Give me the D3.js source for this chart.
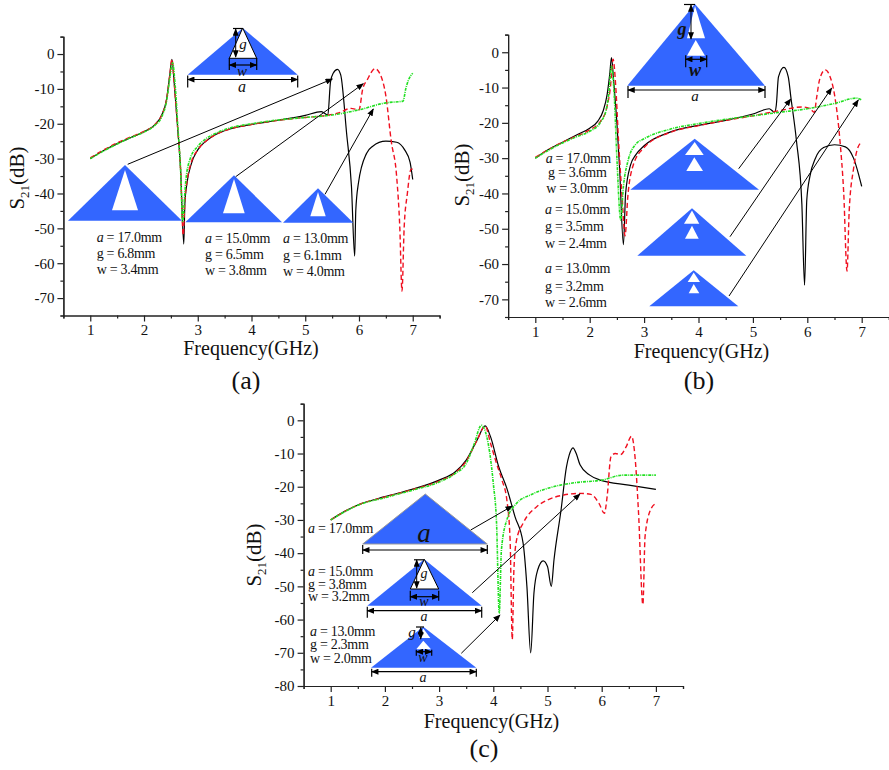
<!DOCTYPE html>
<html>
<head>
<meta charset="utf-8">
<script src="https://cdn.jsdelivr.net/npm/d3@7"></script>
<style>
	html, body { margin: 0; padding: 0; background: #fff; }
	svg { display: block; }
	text { font-family: "Liberation Serif", serif; fill: #111; }
</style>
</head>
<body>
<svg id="fig" width="889" height="770"></svg>
<script>
// curves: [GHz, dB]
var aBlack = [[1,-30],[1.25,-27.7],[1.5,-25.7],[1.75,-24],[2,-22.3],[2.2,-20.3],[2.33,-17.5],[2.42,-13],[2.48,-6],[2.52,-1.5],[2.56,-8],[2.62,-20],[2.68,-33],[2.74,-54.5],[2.76,-43],[2.8,-37],[2.88,-31.5],[3,-27.5],[3.15,-25],[3.3,-23.4],[3.6,-21.5],[4,-20.2],[4.5,-19],[5,-17.6],[5.3,-16.5],[5.42,-17.5],[5.47,-8],[5.52,-5.5],[5.6,-4.4],[5.66,-6],[5.77,-22.8],[5.86,-38],[5.92,-58],[5.94,-45],[5.99,-37],[6.14,-28.5],[6.25,-26.5],[6.5,-25],[6.7,-25.3],[6.85,-27.5],[6.95,-31],[7,-36]];
var aRed = [[1,-29.8],[1.25,-27.5],[1.5,-25.5],[1.75,-23.8],[2,-22.2],[2.2,-20.3],[2.33,-17.5],[2.42,-13],[2.48,-6],[2.52,-1.5],[2.56,-8],[2.62,-20],[2.68,-33],[2.73,-52],[2.76,-42],[2.8,-36.5],[2.88,-31],[3,-27.5],[3.15,-25],[3.3,-23.4],[3.6,-21.5],[4,-20.2],[4.5,-19],[5,-18.2],[5.4,-17.6],[5.6,-17],[5.85,-15.6],[6,-16],[6.07,-10],[6.15,-7.5],[6.3,-4.2],[6.4,-6],[6.5,-12],[6.6,-25],[6.7,-35],[6.76,-50],[6.8,-68],[6.84,-50],[6.9,-40],[6.97,-33],[7,-33]];
var aGreen = [[1,-30],[1.25,-27.8],[1.5,-25.8],[1.75,-24],[2,-22.4],[2.2,-20.5],[2.33,-18],[2.42,-13.5],[2.48,-7],[2.53,-2.5],[2.58,-9],[2.63,-21],[2.68,-33],[2.72,-48],[2.75,-42],[2.78,-36],[2.86,-30],[3,-26.5],[3.15,-24.3],[3.3,-23],[3.6,-21.2],[4,-20],[4.5,-18.9],[5,-18.2],[5.5,-17.5],[6,-16],[6.5,-14],[6.82,-13.5],[6.87,-10],[6.92,-7.5],[7,-5.5]];

var bBlack = [[1,-30],[1.25,-27.5],[1.5,-25.5],[1.75,-23.5],[2,-21.5],[2.15,-19.5],[2.25,-16.5],[2.32,-12],[2.37,-6],[2.4,-1.5],[2.44,-8],[2.5,-20],[2.55,-33],[2.62,-54.5],[2.66,-40],[2.75,-32],[2.85,-29],[3,-26.5],[3.5,-22.5],[4,-20.7],[4.5,-19.3],[5,-17.5],[5.3,-16],[5.4,-17],[5.43,-15],[5.47,-7],[5.57,-4.3],[5.65,-7],[5.7,-13],[5.8,-25],[5.9,-43],[5.95,-66],[5.99,-42],[6.05,-35],[6.15,-30],[6.3,-27],[6.5,-26.2],[6.7,-26.8],[6.85,-30],[6.95,-35],[7,-38]];
var bRed = [[1,-29.8],[1.25,-27.5],[1.5,-25.5],[1.75,-23.8],[2,-22],[2.2,-19.5],[2.3,-16.5],[2.38,-10],[2.43,-2],[2.48,-10],[2.53,-25],[2.6,-42],[2.65,-52],[2.7,-41],[2.8,-32],[3,-27],[3.5,-22.6],[4,-20.8],[4.5,-19.3],[5,-18],[5.5,-16.5],[5.9,-15.5],[6.05,-16],[6.13,-17],[6.17,-13],[6.23,-7.5],[6.33,-5],[6.42,-7],[6.5,-12],[6.6,-25],[6.67,-40],[6.73,-62],[6.77,-45],[6.85,-33],[6.93,-27],[7,-25.5]];
var bGreen = [[1,-30],[1.25,-27.7],[1.5,-25.7],[1.75,-24],[2,-22.4],[2.2,-19.8],[2.3,-16.5],[2.35,-12],[2.4,-4],[2.45,-12],[2.5,-30],[2.57,-47.5],[2.62,-38],[2.7,-31],[2.85,-26],[3,-24.5],[3.5,-21.7],[4,-20.2],[4.5,-19],[5,-18],[5.5,-17],[6,-16],[6.5,-14.5],[6.9,-13],[7,-13.5]];

var cBlack = [[1,-30],[1.25,-27.5],[1.5,-25.5],[2,-23],[2.5,-20.8],[3,-18],[3.3,-15.5],[3.5,-12],[3.7,-6],[3.85,-1.7],[3.95,-5],[4.1,-14],[4.25,-20.5],[4.4,-29],[4.55,-37],[4.62,-50],[4.69,-70],[4.75,-52],[4.82,-45],[4.92,-42.3],[5,-44],[5.07,-50],[5.12,-42],[5.25,-27],[5.35,-14],[5.4,-10.5],[5.47,-8.3],[5.53,-10],[5.6,-13.4],[5.78,-16.5],[5.97,-18],[6.5,-19.5],[7,-20.8]];
var cRed = [[1,-30],[1.25,-27.5],[1.5,-25.5],[2,-23.1],[2.5,-20.9],[3,-18.3],[3.3,-15.8],[3.5,-12.3],[3.7,-6],[3.85,-1.7],[3.95,-7],[4.06,-13],[4.16,-18],[4.25,-24],[4.31,-36],[4.35,-66],[4.38,-45],[4.43,-36],[4.55,-31],[4.8,-26],[5,-24],[5.3,-22.5],[5.6,-22],[5.8,-22.3],[5.95,-25],[6.05,-28],[6.1,-23],[6.17,-11],[6.25,-10],[6.35,-10.3],[6.45,-8],[6.55,-4.8],[6.62,-12],[6.68,-28],[6.76,-55.5],[6.8,-35],[6.9,-27],[7,-25]];
var cGreen = [[1,-30],[1.25,-27.6],[1.5,-25.6],[2,-23.3],[2.5,-21.1],[3,-18.6],[3.3,-16],[3.5,-13],[3.65,-7],[3.78,-1.5],[3.88,-5],[4,-19],[4.06,-31],[4.11,-58],[4.15,-39],[4.25,-30],[4.43,-25],[4.68,-22.5],[5,-20.5],[5.5,-18.8],[6,-18],[6.4,-16.5],[7,-16.5]];

var xTicks = [1, 2, 3, 4, 5, 6, 7];
var xMinor = [0.5, 1.5, 2.5, 3.5, 4.5, 5.5, 6.5, 7.5];
var yTicksAB = [0, -10, -20, -30, -40, -50, -60, -70];
var yMinorAB = [5, -5, -15, -25, -35, -45, -55, -65, -75];
var yTicksC = [0, -10, -20, -30, -40, -50, -60, -70, -80];
var yMinorC = [5, -5, -15, -25, -35, -45, -55, -65, -75];

var aText = [["17.0", "6.8", "3.4"], ["15.0", "6.5", "3.8"], ["13.0", "6.1", "4.0"]];
var bText = [["17.0", "3.6", "3.0"], ["15.0", "3.5", "2.4"], ["13.0", "3.2", "2.6"]];
var cText = [["17.0"], ["15.0", "3.8", "3.2"], ["13.0", "2.3", "2.0"]];

var BLUE = "#3366ff";
var svg = d3.select("#fig");

svg.append("defs").append("marker")
	.attr("id", "head")
	.attr("viewBox", "0 0 10 8")
	.attr("refX", 9).attr("refY", 4)
	.attr("markerWidth", 8).attr("markerHeight", 6)
	.attr("markerUnits", "userSpaceOnUse")
	.attr("orient", "auto-start-reverse")
	.append("path").attr("d", "M0,0L10,4L0,8Z").attr("fill", "#000");

function panel(opt) {
	var x = d3.scaleLinear().domain([0.5, 7.5]).range(opt.xr);
	var y = d3.scaleLinear().domain(opt.yd).range(opt.yr);
	var g = svg.append("g");
	var line = d3.line()
		.x(function(d) { return x(d[0]); })
		.y(function(d) { return y(d[1]); })
		.curve(d3.curveMonotoneX);

	function curve(data, color, dash, w) {
		g.append("path").datum(data)
			.attr("fill", "none")
			.attr("stroke", color)
			.attr("stroke-width", w)
			.attr("stroke-dasharray", dash)
			.attr("d", line);
	}
	curve(opt.black, "#000", null, 1.2);
	curve(opt.red, "#f01020", "5,3", 1.4);
	curve(opt.green, "#22e022", "3,1,1,1", 1.6);

	// minor ticks first, labelled axis on top
	g.append("g").attr("transform", "translate(0," + opt.yr[0] + ")")
		.call(d3.axisBottom(x).tickValues(xMinor).tickSize(3).tickFormat(""));
	g.append("g").attr("transform", "translate(" + opt.xr[0] + ",0)")
		.call(d3.axisLeft(y).tickValues(opt.yMinor).tickSize(3).tickFormat(""));
	g.append("g").attr("transform", "translate(0," + opt.yr[0] + ")")
		.call(d3.axisBottom(x).tickValues(xTicks).tickSize(6).tickSizeOuter(0).tickFormat(String));
	g.append("g").attr("transform", "translate(" + opt.xr[0] + ",0)")
		.call(d3.axisLeft(y).tickValues(opt.yTicks).tickSize(6).tickSizeOuter(0).tickFormat(String));
	g.selectAll(".domain, .tick line").attr("stroke", "#222").attr("stroke-width", 1.2);
	g.selectAll(".tick text").style("font-size", "15px").style("font-family", '"Liberation Serif", serif').attr("fill", "#111");

	g.append("text").attr("x", opt.xTitle[0]).attr("y", opt.xTitle[1])
		.attr("text-anchor", "middle").style("font-size", "20px").text("Frequency(GHz)");

	var yt = g.append("text")
		.attr("transform", "translate(" + opt.yTitle[0] + "," + opt.yTitle[1] + ") rotate(-90)")
		.attr("text-anchor", "middle").style("font-size", "21px");
	yt.append("tspan").text("S");
	yt.append("tspan").attr("dy", 5).style("font-size", "13px").text("21");
	yt.append("tspan").attr("dy", -5).text("(dB)");

	g.append("text").attr("x", opt.tag[0]).attr("y", opt.tag[1])
		.attr("text-anchor", "middle").style("font-size", "26px").text(opt.tag[2]);
}

function tri(ax, ay, lx, rx, by, fill, stroke) {
	return svg.append("path")
		.attr("d", "M" + ax + "," + ay + "L" + lx + "," + by + "L" + rx + "," + by + "Z")
		.attr("fill", fill)
		.attr("stroke", stroke || "none")
		.attr("stroke-width", 1);
}

function arrow(x1, y1, x2, y2, both, w) {
	var l = svg.append("line")
		.attr("x1", x1).attr("y1", y1).attr("x2", x2).attr("y2", y2)
		.attr("stroke", "#000").attr("stroke-width", w || 1)
		.attr("marker-end", "url(#head)");
	if (both) l.attr("marker-start", "url(#head)");
}

// horizontal dimension with end bars
function dim(x1, x2, y, up, down) {
	arrow(x1, y, x2, y, true, 1.2);
	[x1, x2].forEach(function(x) {
		svg.append("line").attr("x1", x).attr("x2", x)
			.attr("y1", y - up).attr("y2", y + down)
			.attr("stroke", "#000").attr("stroke-width", 1.2);
	});
}

function label(x, y, s, size, bold) {
	svg.append("text").attr("x", x).attr("y", y)
		.attr("text-anchor", "middle")
		.style("font-size", size + "px").style("font-style", "italic")
		.style("font-weight", bold ? "bold" : "normal")
		.text(s);
}

function params(vals, xs, ys) {
	var names = ["a", "g", "w"];
	vals.forEach(function(v, i) {
		var t = svg.append("text").attr("x", xs[i]).attr("y", ys[i])
			.style("font-size", "14px").style("letter-spacing", "-0.3px");
		if (i == 0) t.append("tspan").style("font-style", "italic").text("a");
		else t.append("tspan").text(names[i]);
		t.append("tspan").text(" = " + v + "mm");
	});
}

panel({
	xr: [63.4, 439.6], yd: [-75, 5], yr: [315.5, 36.6],
	yTicks: yTicksAB, yMinor: yMinorAB,
	black: aBlack, red: aRed, green: aGreen,
	xTitle: [251, 355], yTitle: [24, 178], tag: [246, 389, "(a)"]
});
panel({
	xr: [508.1, 888.9], yd: [-75, 5], yr: [317, 34.6],
	yTicks: yTicksAB, yMinor: yMinorAB,
	black: bBlack, red: bRed, green: bGreen,
	xTitle: [701.5, 358], yTitle: [469, 175], tag: [699, 389, "(b)"]
});
panel({
	xr: [303.6, 683], yd: [-80, 5], yr: [686, 403.7],
	yTicks: yTicksC, yMinor: yMinorC,
	black: cBlack, red: cRed, green: cGreen,
	xTitle: [491.5, 728], yTitle: [261, 555], tag: [484, 757, "(c)"]
});

// (a) unit cell sketches
tri(242.7, 28, 187.7, 297.7, 74.7, BLUE);
tri(242.7, 28, 229.3, 256.7, 58.3, "#fff", "#000");
svg.append("line").attr("x1", 233).attr("x2", 243).attr("y1", 28.5).attr("y2", 28.5).attr("stroke", "#000").attr("stroke-width", 1.2);
arrow(235.7, 29, 235.7, 57, true, 1);
dim(229.3, 256.7, 65, 7, 5);
dim(187.7, 297.7, 79.5, 4, 8);
label(243, 49, "g", 15);
label(242, 76, "w", 15);
label(242, 92, "a", 16);

tri(125, 165, 68, 182, 220.7, BLUE);
tri(125, 170, 112, 138, 210.3, "#fff");
tri(234, 175.3, 185.3, 282, 222.3, BLUE);
tri(234, 179, 223, 244.7, 213.3, "#fff");
tri(318, 188.3, 283, 353.3, 222.7, BLUE);
tri(318, 192, 310.3, 325.7, 216.3, "#fff");

params(aText[0], [96.7, 96.7, 96.7], [241.7, 258, 274]);
params(aText[1], [205, 205, 205], [243, 259, 275]);
params(aText[2], [283, 283, 283], [243, 260, 276]);

arrow(127.7, 164.3, 332.3, 79);
arrow(235.7, 176.7, 363.3, 83.7);
arrow(325, 194.3, 373.3, 109);

// (b) unit cell sketches
tri(695, 4, 627.3, 765, 85.7, BLUE);
tri(695, 6, 687, 705, 38.3, "#fff");
tri(695.7, 40, 687, 705, 55.7, "#fff");
svg.append("line").attr("x1", 684).attr("x2", 695).attr("y1", 4.5).attr("y2", 4.5).attr("stroke", "#000").attr("stroke-width", 1.2);
arrow(691, 5, 691, 39, true, 1);
dim(685.7, 706.7, 59.3, 4, 8);
dim(628, 765, 90, 4, 8);
label(682, 35, "g", 18, true);
label(695, 76, "w", 18, true);
label(695, 101, "a", 15);

tri(694.7, 138.7, 630.3, 759, 189.7, BLUE);
tri(694.7, 142, 685, 703.7, 155, "#fff");
tri(694.3, 157.3, 686.3, 703, 171, "#fff");
tri(692, 208.3, 637.3, 746.3, 255.7, BLUE);
tri(692, 210.5, 684, 699.3, 223.7, "#fff");
tri(692, 225.7, 685, 698.7, 238.7, "#fff");
tri(693.7, 270.3, 649.3, 738.3, 306.3, BLUE);
tri(693.7, 272.5, 687.7, 700, 282, "#fff");
tri(693.7, 284, 688.7, 699.3, 293.3, "#fff");

params(bText[0], [545.7, 548, 546.3], [163, 176.7, 192.7]);
params(bText[1], [545, 545, 545], [214.3, 230.7, 247.7]);
params(bText[2], [545, 545, 545], [273.3, 290.7, 306.7]);

arrow(738.7, 168.7, 790.7, 99);
arrow(730, 236.7, 831.7, 88);
arrow(729, 296, 858.3, 100);

// (c) unit cell sketches
tri(425.3, 494, 362.7, 487.3, 544, BLUE, "#999");
dim(362.7, 487.3, 550, 5, 4);
label(424, 541.5, "a", 27);

tri(424.3, 559.3, 367.3, 481.7, 605.7, BLUE);
tri(424.3, 559.3, 410.3, 438.7, 589, "#fff", "#000");
svg.append("line").attr("x1", 414).attr("x2", 424).attr("y1", 559.8).attr("y2", 559.8).attr("stroke", "#000").attr("stroke-width", 1.2);
arrow(416.7, 560, 416.7, 588, true, 1);
dim(410.3, 438.7, 596.7, 6, 4);
dim(367.3, 481.7, 610.7, 4, 7);
label(424, 578, "g", 14);
label(424, 606, "w", 14);
label(424, 621, "a", 14);

tri(423.3, 626.7, 371, 476.3, 667.7, BLUE);
tri(423.3, 628.5, 419, 430.3, 638, "#fff");
tri(423.3, 640.7, 416.3, 431, 649.3, "#fff");
svg.append("line").attr("x1", 416).attr("x2", 424).attr("y1", 627).attr("y2", 627).attr("stroke", "#000").attr("stroke-width", 1.2);
arrow(420.7, 627.5, 420.7, 639, true, 1);
dim(416.3, 431.7, 651.7, 2, 4);
dim(371.7, 476.3, 671.7, 3, 5);
label(412, 637, "g", 15);
label(423, 662, "w", 14);
label(423, 682, "a", 14);

params(cText[0], [308], [533.3]);
params(cText[1], [308, 308, 308], [575.7, 588.7, 601.3]);
params(cText[2], [310, 310, 310], [636, 649.3, 663.3]);

arrow(470.7, 530, 512.3, 506);
arrow(472.3, 592.7, 580, 494);
arrow(461.3, 653.3, 500, 615);
</script>
</body>
</html>
